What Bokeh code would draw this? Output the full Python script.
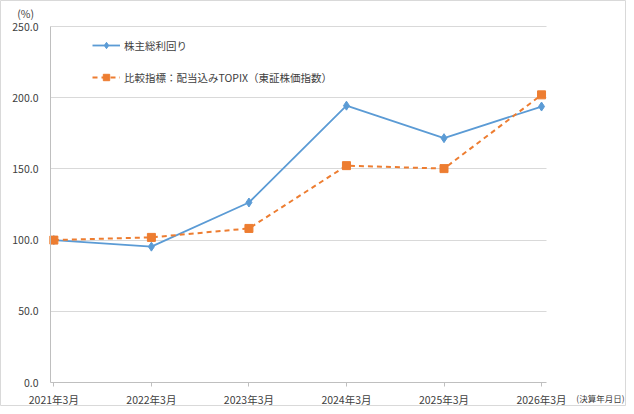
from bokeh.plotting import figure
from bokeh.models import (Range1d, FixedTicker, NumeralTickFormatter, Legend, LegendItem, Label, Grid)
from bokeh.embed import file_html
from bokeh.resources import INLINE

categories = ["2021年3月", "2022年3月", "2023年3月", "2024年3月", "2025年3月", "2026年3月"]
tsr = [100.0, 95.4, 126.4, 194.4, 171.6, 193.8]
topix = [100.0, 101.9, 108.2, 152.3, 150.2, 202.0]
y_ticks = [0, 50, 100, 150, 200, 250]
series_names = ["株主総利回り", "比較指標：配当込みTOPIX（東証株価指数）"]

FONT = "Noto Sans CJK JP"
BLUE = "#5B9BD5"
ORANGE = "#ED7D31"
TXT = "#404040"
GRID = "#d9d9d9"

# plot-area extent (data units) inside a frame that covers the whole canvas
X_LEFT, X_RIGHT = -0.034, 5.051
Y_LOW, Y_HIGH = 0, 250

xs = list(range(len(categories)))

p = figure(width=626, height=406, output_backend="svg", toolbar_location=None,
           x_range=Range1d(-0.547, 5.871), y_range=Range1d(-16.85, 268.26),
           min_border_left=0, min_border_right=0, min_border_top=0, min_border_bottom=0)
p.outline_line_color = GRID
p.outline_line_width = 1
p.background_fill_color = "white"
p.border_fill_color = "white"

# x axis (category-like, at y = 0)
p.xaxis.fixed_location = Y_LOW
p.xaxis.bounds = (X_LEFT, X_RIGHT)
p.xaxis.ticker = FixedTicker(ticks=xs)
p.xaxis.major_label_overrides = {i: c for i, c in enumerate(categories)}
p.xaxis.minor_tick_line_color = None
p.xaxis.major_tick_in = 0
p.xaxis.major_tick_out = 4
p.xaxis.major_tick_line_color = "#bfbfbf"
p.xaxis.axis_line_color = "#bfbfbf"
p.xaxis.major_label_standoff = 5
p.xaxis.major_label_text_font = FONT
p.xaxis.major_label_text_font_size = "10.5px"
p.xaxis.major_label_text_color = TXT

# y axis (at left edge of plot area)
p.yaxis.fixed_location = X_LEFT
p.yaxis.bounds = (Y_LOW, Y_HIGH)
p.yaxis.ticker = FixedTicker(ticks=y_ticks)
p.yaxis.formatter = NumeralTickFormatter(format="0.0")
p.yaxis.minor_tick_line_color = None
p.yaxis.major_tick_line_color = None
p.yaxis.major_tick_in = 0
p.yaxis.major_tick_out = 0
p.yaxis.axis_line_color = "#bfbfbf"
p.yaxis.major_label_standoff = 12
p.yaxis.major_label_text_font = FONT
p.yaxis.major_label_text_font_size = "10.5px"
p.yaxis.major_label_text_color = TXT

p.xgrid.grid_line_color = None
if "cross_bounds" in Grid.properties():
    g = p.ygrid[0]
    g.ticker = FixedTicker(ticks=y_ticks[1:])
    g.cross_bounds = (X_LEFT, X_RIGHT)
    g.grid_line_color = GRID
    g.grid_line_width = 1
else:
    p.ygrid.grid_line_color = None
    p.segment(x0=[X_LEFT] * (len(y_ticks) - 1), y0=y_ticks[1:],
              x1=[X_RIGHT] * (len(y_ticks) - 1), y1=y_ticks[1:],
              line_color=GRID, line_width=1, level="underlay")

# series
l1 = p.line(xs, tsr, line_color=BLUE, line_width=1.8)
m1 = p.scatter(xs, tsr, marker="diamond", size=9, fill_color=BLUE, line_color=BLUE)
l2 = p.line(xs, topix, line_color=ORANGE, line_width=2, line_dash="5 4")
m2 = p.scatter(xs, topix, marker="square", size=8, fill_color=ORANGE, line_color=ORANGE)

legend = Legend(items=[LegendItem(label=series_names[0], renderers=[l1, m1]),
                       LegendItem(label=series_names[1], renderers=[l2, m2])],
                location=(92, 321), orientation="vertical")
legend.border_line_color = None
legend.background_fill_alpha = 0
legend.padding = 0
legend.margin = 0
legend.spacing = 16
legend.label_height = 16
legend.glyph_height = 16
legend.glyph_width = 28
legend.label_standoff = 4
legend.label_text_font = FONT
legend.label_text_font_size = "10.5px"
legend.label_text_color = TXT
p.add_layout(legend, "center")

p.add_layout(Label(x=-0.290, y=259.1, text="(%)", text_font=FONT, text_font_size="10.5px",
                   text_color=TXT, text_align="center", text_baseline="middle"))
p.add_layout(Label(x=5.851, y=-11.2, text="(決算年月日)", text_font=FONT, text_font_size="8.5px",
                   text_color=TXT, text_align="right", text_baseline="middle"))

open("out.html", "w").write(file_html(p, INLINE))
